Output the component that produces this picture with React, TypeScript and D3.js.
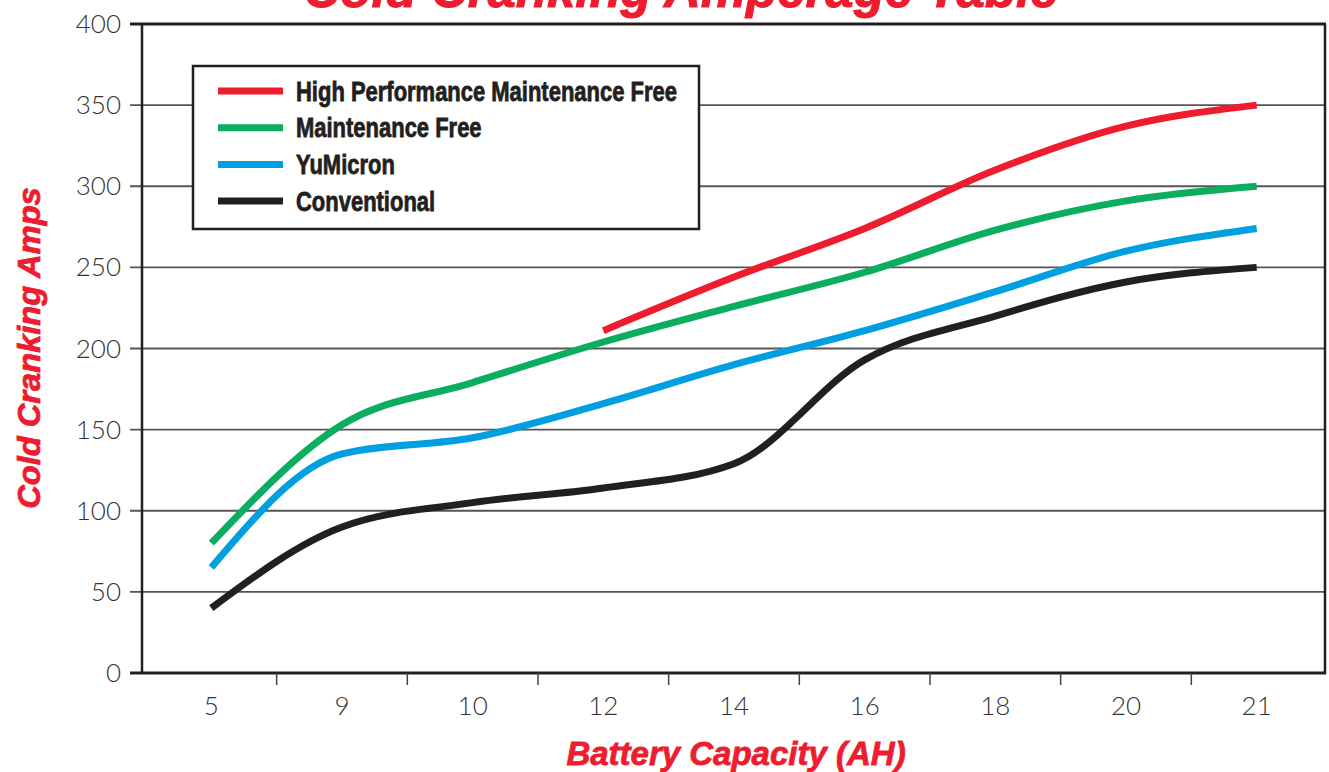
import React from 'react';
import * as d3 from 'd3';

// battery capacity (AH) categories along the bottom
const capacities = ['5', '9', '10', '12', '14', '16', '18', '20', '21'];

// cold cranking amps per capacity (null = not offered)
const highPerfMF = [null, null, null, 211, 244, 274, 310, 337, 350];
const maintenanceFree = [80, 153, 179, 204, 226, 247, 273, 291, 300];
const yuMicron = [65, 135, 145, 166, 190, 211, 235, 260, 274];
const conventional = [40, 90, 105, 114, 129, 193, 220, 241, 250];

const yTicks = [0, 50, 100, 150, 200, 250, 300, 350, 400];

const seriesNames = ['High Performance Maintenance Free', 'Maintenance Free', 'YuMicron', 'Conventional'];
const seriesColors = ['#ed1c2e', '#0bae5f', '#009fe0', '#231f20'];

const W = 1329;
const H = 772;
const left = 142;
const right = 1325;
const top = 24;
const bottom = 673;

const RED = '#ed1c2e';
const INK = '#231f20';
const TITLE_FONT = "'Liberation Sans', Roboto, sans-serif";
const NUM_FONT = "Lato, 'Open Sans', sans-serif";

export default function App() {
  const x = d3.scaleBand<string>().domain(capacities).range([146, 1322]).paddingInner(0).paddingOuter(0);
  const y = d3.scaleLinear().domain([0, 400]).range([bottom, top]);
  const cx = (i: number) => (x(capacities[i]) as number) + x.bandwidth() / 2;

  const line = d3
    .line<number | null>()
    .defined((d) => d != null)
    .x((_, i) => cx(i))
    .y((d) => y(d as number))
    .curve(d3.curveMonotoneX);

  const allSeries = [highPerfMF, maintenanceFree, yuMicron, conventional];
  // boundaries between categories get a little tick mark
  const bounds = capacities.slice(1).map((c) => x(c) as number);

  return (
    <svg width={W} height={H} style={{ position: 'absolute', left: 0, top: 0, background: '#fff' }}>
      {/* title, mostly cut off at the top */}
      <text
        transform={`translate(681,7) scale(0.98,1)`}
        textAnchor="middle"
        fontFamily={TITLE_FONT}
        fontWeight="bold"
        fontStyle="italic"
        fontSize={52}
        fill={RED}
        stroke={RED}
        strokeWidth={1}
      >
        Cold Cranking Amperage Table
      </text>

      {/* grid lines + y ticks */}
      {yTicks.map((t) => (
        <g key={t}>
          {t > 0 && t < 400 && (
            <line x1={130} x2={right} y1={y(t)} y2={y(t)} stroke="#555" strokeWidth={1.8} />
          )}
          <text
            x={121}
            y={y(t)}
            dy="0.35em"
            textAnchor="end"
            fontFamily={NUM_FONT}
            fontWeight={300}
            fontSize={26}
            fill="#333"
          >
            {t}
          </text>
        </g>
      ))}

      {/* frame */}
      <line x1={130} x2={right + 1} y1={top} y2={top} stroke={INK} strokeWidth={3} />
      <line x1={130} x2={right + 1} y1={bottom} y2={bottom} stroke={INK} strokeWidth={3} />
      <line x1={left} x2={left} y1={top} y2={bottom} stroke={INK} strokeWidth={2.5} />
      <line x1={right} x2={right} y1={top} y2={bottom + 1} stroke={INK} strokeWidth={2.5} />

      {/* x ticks */}
      {bounds.map((b) => (
        <line key={b} x1={b} x2={b} y1={bottom} y2={bottom + 12} stroke="#444" strokeWidth={1.5} />
      ))}
      {capacities.map((c, i) => (
        <text
          key={c}
          x={cx(i)}
          y={715}
          textAnchor="middle"
          fontFamily={NUM_FONT}
          fontWeight={300}
          fontSize={26}
          fill="#333"
        >
          {c}
        </text>
      ))}

      {/* series */}
      {allSeries.map((s, k) => (
        <path key={k} d={line(s) || ''} fill="none" stroke={seriesColors[k]} strokeWidth={7} />
      ))}

      {/* legend */}
      <rect x={193} y={66} width={506} height={163} fill="#fff" stroke={INK} strokeWidth={2.5} />
      {seriesNames.map((n, k) => {
        const ly = 91 + k * 36.7;
        return (
          <g key={n}>
            <line x1={218} x2={283} y1={ly} y2={ly} stroke={seriesColors[k]} strokeWidth={7} />
            <text
              transform={`translate(296,${ly + 9.5}) scale(0.785,1)`}
              fontFamily={TITLE_FONT}
              fontWeight="bold"
              fontSize={28}
              fill={INK}
              stroke={INK}
              strokeWidth={0.8}
            >
              {n}
            </text>
          </g>
        );
      })}

      {/* axis titles */}
      <text
        transform={`translate(736,765) scale(1,1)`}
        textAnchor="middle"
        fontFamily={TITLE_FONT}
        fontWeight="bold"
        fontStyle="italic"
        fontSize={33}
        fill={RED}
        stroke={RED}
        strokeWidth={0.8}
      >
        Battery Capacity (AH)
      </text>
      <text
        transform={`translate(40,348) rotate(-90) scale(1.02,1)`}
        textAnchor="middle"
        fontFamily={TITLE_FONT}
        fontWeight="bold"
        fontStyle="italic"
        fontSize={32}
        fill={RED}
        stroke={RED}
        strokeWidth={0.8}
      >
        Cold Cranking Amps
      </text>
    </svg>
  );
}
